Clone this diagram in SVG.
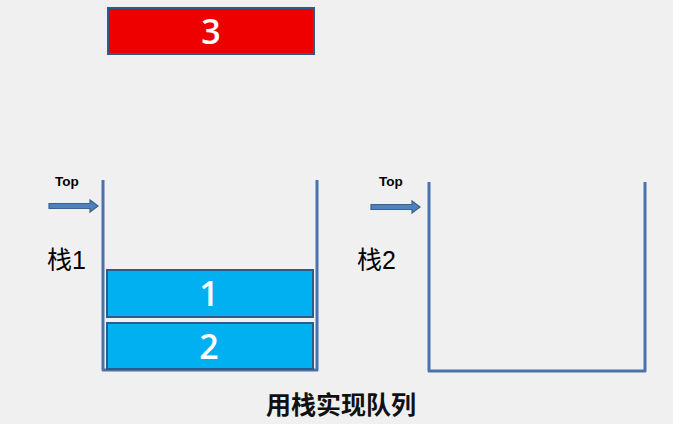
<svg xmlns="http://www.w3.org/2000/svg" width="673" height="424" viewBox="0 0 673 424">
<style>
.wall{fill:none;stroke:#4a72ad;stroke-width:3;stroke-linejoin:round}
.box{stroke:#2f5b8a;stroke-width:2}
.num{font-family:"Open Sans","DejaVu Sans",sans-serif;font-weight:600;fill:#fff;font-size:34px;text-anchor:middle}
.top{font-family:"Liberation Sans",Arial,sans-serif;font-weight:bold;font-size:13.5px;fill:#000}
.lbl{font-family:"Liberation Sans","Noto Sans CJK SC",sans-serif;font-size:25px;fill:#000}
.arrow{fill:#4f81bd;stroke:#3a6290;stroke-width:1.2}
</style>
<rect width="673" height="424" fill="#f0f0f0"/>
<g id="stack1">
<path class="wall" d="M103,180 V370 H317 V180"/>
<text class="lbl" x="47" y="269">栈1</text>
</g>
<g id="stack2">
<path class="wall" d="M429,182 V371 H645 V182"/>
<text class="lbl" x="357" y="269">栈2</text>
</g>
<g id="node3">
<rect class="box" x="108" y="8" width="206" height="46" fill="#ee0000" stroke="#4a4a6a"/>
<text class="num" x="211" y="44">3</text>
</g>
<g id="node1">
<rect class="box" x="107" y="270" width="206" height="47" fill="#00b0f0"/>
<text class="num" x="209" y="306">1</text>
</g>
<g id="node2">
<rect class="box" x="107" y="323" width="206" height="46" fill="#00b0f0"/>
<text class="num" x="209" y="359">2</text>
</g>
<g id="connectors">
<g id="top1">
<text class="top" x="55" y="186">Top</text>
<path class="arrow" d="M49,203.5 H90 V200 L98,206 L90,212 V208.5 H49 Z"/>
</g>
<g id="top2">
<text class="top" x="379" y="186">Top</text>
<path class="arrow" d="M371,204.5 H412 V201 L420,207 L412,213 V209.5 H371 Z"/>
</g>
</g>
<g id="title">
<text x="341" y="414" text-anchor="middle" font-family="'Noto Sans CJK SC',sans-serif" font-weight="bold" font-size="25" fill="#111">用栈实现队列</text>
</g>
</svg>
